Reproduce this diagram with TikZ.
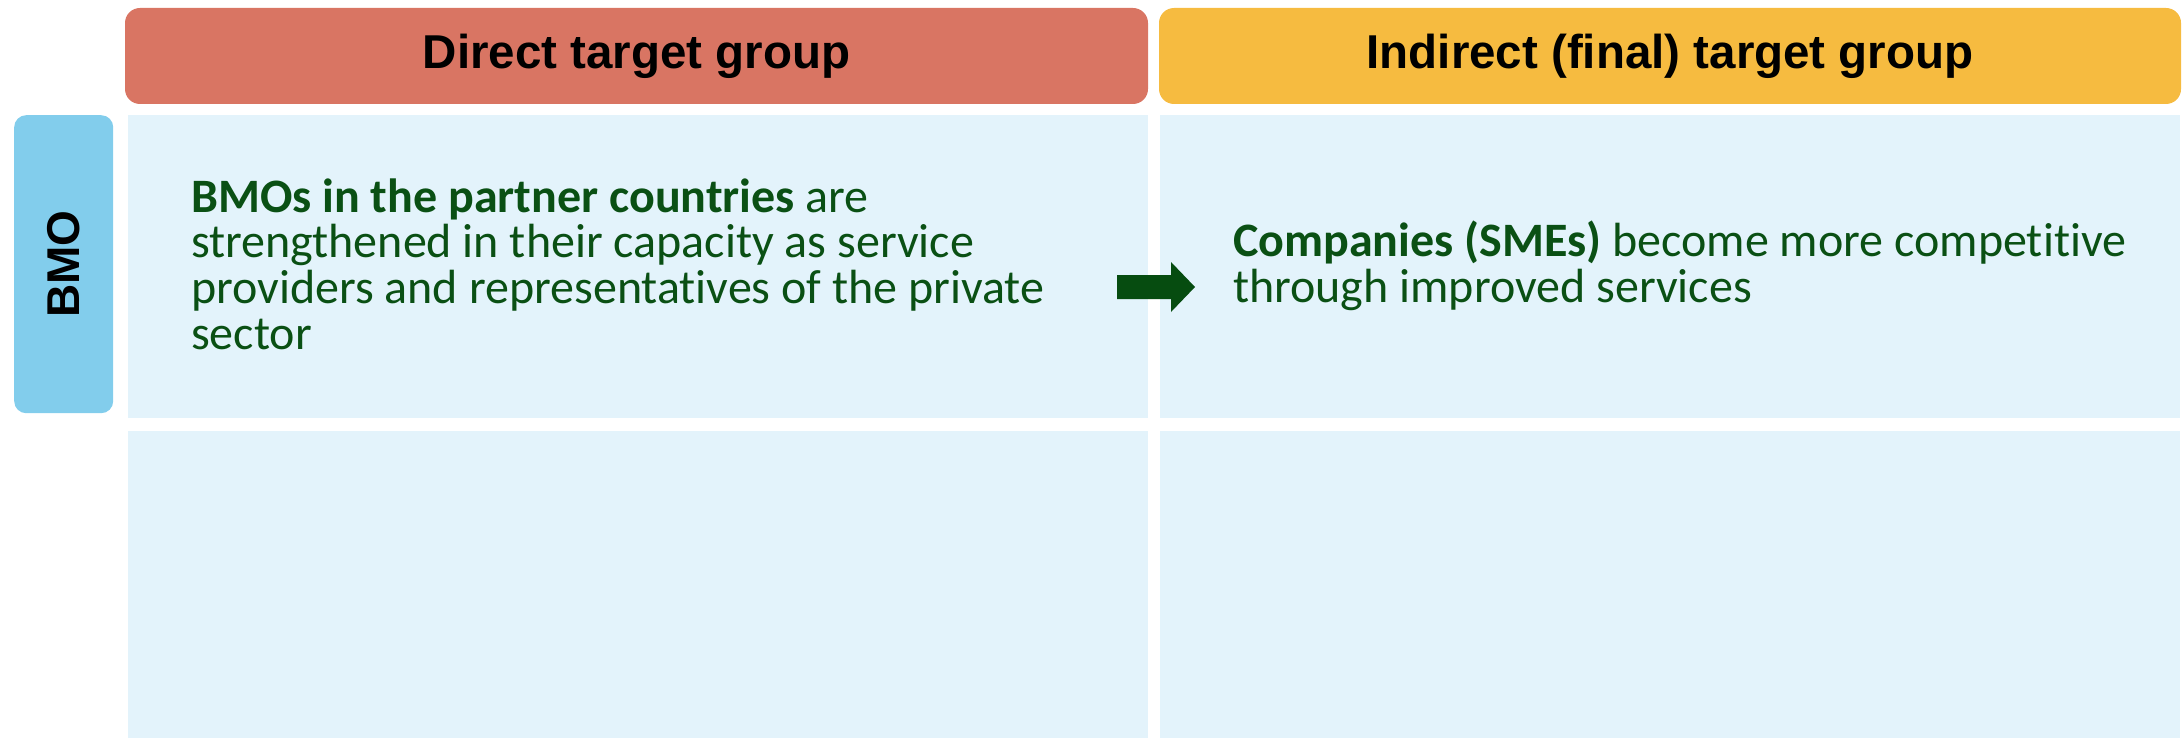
\documentclass[tikz,border=0pt]{standalone}
\usepackage{fontspec}
\setmainfont{Carlito}[Ligatures=NoCommon]
\newfontfamily\hdrfont{Liberation Sans}
\definecolor{hdrred}{HTML}{D97563}
\definecolor{hdrorange}{HTML}{F6BB40}
\definecolor{lblblue}{HTML}{82CDEC}
\definecolor{cellbg}{HTML}{E3F3FB}
\definecolor{txtgreen}{HTML}{0A5014}
\definecolor{arrowgreen}{HTML}{064C10}
\begin{document}
\begin{tikzpicture}[x=1pt,y=-1pt,
  header/.style={rounded corners=15pt, inner sep=0pt, outer sep=0pt, minimum height=96pt, minimum width=1023pt,
    font=\hdrfont\bfseries\fontsize{47.5}{50}\selectfont, text=black},
  cell/.style={fill=cellbg, draw=none, inner sep=0pt, outer sep=0pt},
  bodytext/.style={font=\fontsize{48}{45.6}\selectfont, text=txtgreen, align=left, inner sep=0pt}
]
\useasboundingbox (0,0) rectangle (2183,738);
% headers
\node[header, fill=hdrred, anchor=north west] (h1) at (125,8) {Direct target group};
\node[header, fill=hdrorange, anchor=north west, minimum width=1022pt] (h2) at (1159,8) {Indirect (final) target group};
% cells
\node[cell, anchor=north west, minimum width=1020pt, minimum height=303pt] (c11) at (128,115) {};
\node[cell, anchor=north west, minimum width=1020pt, minimum height=303pt] (c12) at (1160,115) {};
\node[cell, anchor=north west, minimum width=1020pt, minimum height=307pt] (c21) at (128,431) {};
\node[cell, anchor=north west, minimum width=1020pt, minimum height=307pt] (c22) at (1160,431) {};
% side label
\node[fill=lblblue, rounded corners=12pt, anchor=north west, minimum width=99pt, minimum height=298pt, inner sep=0pt] (lbl) at (14,115) {};
\node[font=\hdrfont\bfseries\fontsize{46}{50}\selectfont, rotate=90, inner sep=0pt] (lbltxt) at (lbl.center) {BMO};
% texts
\node[bodytext, anchor=base west] (t1) at (191,349) {\textbf{BMOs in the partner countries} are\\strengthened in their capacity as service\\providers and representatives of the private\\sector};
\node[bodytext, anchor=base west] (t2) at (1233,302) {\textbf{Companies (SMEs)} become more competitive\\through improved services};
% arrow
\fill[arrowgreen] (1117,275) -- (1171,275) -- (1171,262) -- (1195,287) -- (1171,312) -- (1171,299) -- (1117,299) -- cycle;
\end{tikzpicture}
\end{document}
